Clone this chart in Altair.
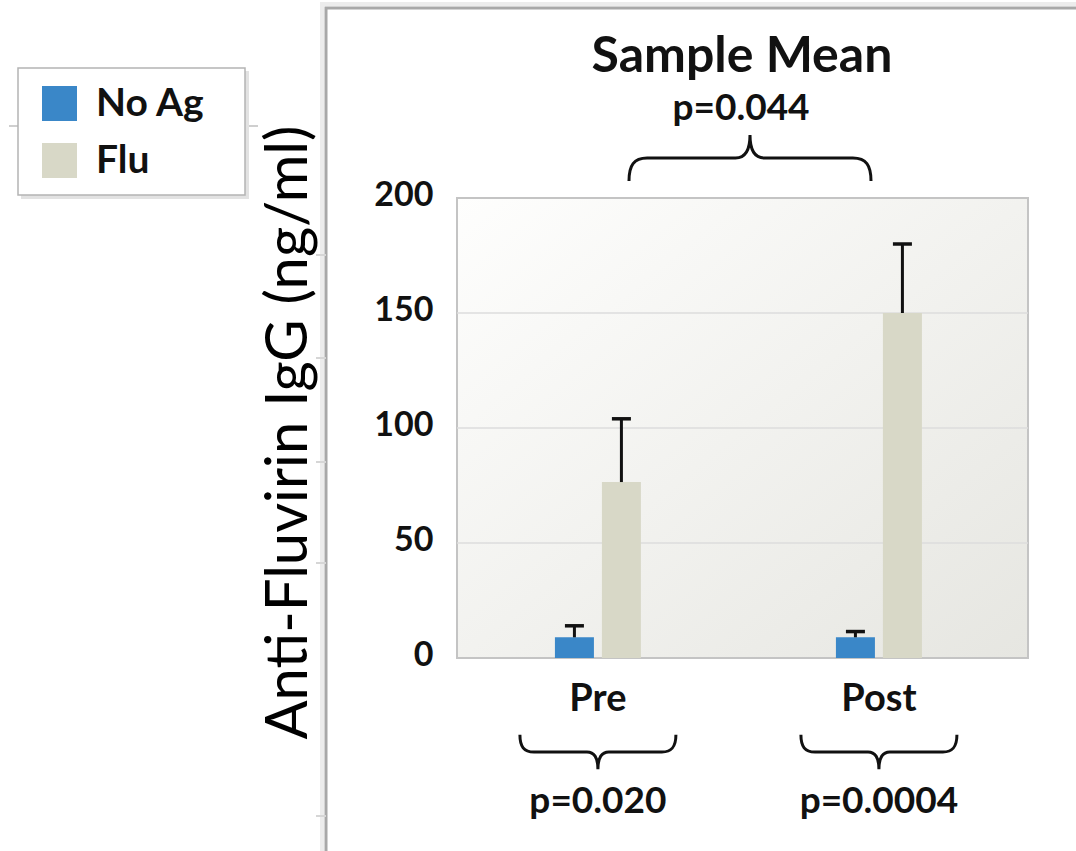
import altair as alt
import pandas as pd

# ---- data ----
periods = ["Pre", "Pre", "Post", "Post"]
groups = ["No Ag", "Flu", "No Ag", "Flu"]
means = [9, 76.5, 9, 150]
uppers = [14, 104, 11.5, 180]

period_order = ["Pre", "Post"]
legend_order = ["No Ag", "Flu"]
colors = ["#3a87c8", "#d8d8c7"]

y_ticks = [0, 50, 100, 150, 200]
grid_values = [50, 100, 150]

title_text = ["Sample Mean"]
top_p = ["p=0.044"]
bottom_periods = ["Pre", "Post"]
bottom_p = ["p=0.020", "p=0.0004"]
y_title = "Anti-Fluvirin IgG (ng/ml)"

# ---- layout constants (pixels) ----
W, H = 571, 460
PAD_L, PAD_T = 457, 198

df = pd.DataFrame({"Period": periods, "Group": groups, "Mean": means, "Upper": uppers})
grid_df = pd.DataFrame({"Mean": grid_values})
bottom_df = pd.DataFrame({"Period": bottom_periods, "label": bottom_p})
one = pd.DataFrame({"k": [0]})

FONT = "Lato"

xscale = alt.Scale(paddingInner=0.694, paddingOuter=0.363, align=0.48)
xoffscale = alt.Scale(paddingInner=0.17, paddingOuter=0)
yscale = alt.Scale(domain=[0, 200], nice=False)

xaxis = alt.Axis(title=None, labelFont=FONT, labelFontWeight="bold", labelFontSize=38,
                 labelColor="#111111", labelPadding=52, labelBaseline="alphabetic",
                 ticks=False, tickSize=0, domain=False, labelAngle=0, grid=False)
yaxis = alt.Axis(values=y_ticks, title=y_title, titleFont=FONT, titleFontSize=58,
                 titleFontWeight="normal", titleColor="#000000", titleX=-151, titleY=234,
                 titleAngle=270, titleAlign="center", titleBaseline="alphabetic",
                 labelFont=FONT, labelFontWeight="bold", labelFontSize=34, labelColor="#111111",
                 labelPadding=24, labelOffset=-3, ticks=False, tickSize=0, domain=False, grid=False)

X = alt.X("Period:N", sort=period_order, scale=xscale, axis=xaxis)
XO = alt.XOffset("Group:N", sort=legend_order, scale=xoffscale)

# outer frame of the slide panel
frame = alt.Chart(one).mark_rect(filled=False, stroke="#a8a8a8", strokeWidth=3).encode(
    x=alt.value(326 - PAD_L), x2=alt.value(W + 120),
    y=alt.value(8 - PAD_T), y2=alt.value(H + 260))
frame_shadow = alt.Chart(one).mark_rect(filled=False, stroke="#ececec", strokeWidth=4).encode(
    x=alt.value(322 - PAD_L), x2=alt.value(W + 120),
    y=alt.value(4 - PAD_T), y2=alt.value(H + 260))

# faint leftover lines
deco = []
deco.append(alt.Chart(one).mark_rule(color="#cfcfcf", strokeWidth=2).encode(
    x=alt.value(9 - PAD_L), x2=alt.value(258 - PAD_L), y=alt.value(126 - PAD_T)))
for yy in [255, 358, 462, 563, 816]:
    deco.append(alt.Chart(one).mark_rule(color="#d6d6d6", strokeWidth=2).encode(
        x=alt.value(316 - PAD_L), x2=alt.value(326 - PAD_L), y=alt.value(yy - PAD_T)))

# legend box
leg_shadow = alt.Chart(one).mark_rect(fill="#e2e2e2").encode(
    x=alt.value(21 - PAD_L), x2=alt.value(249 - PAD_L),
    y=alt.value(71 - PAD_T), y2=alt.value(199 - PAD_T))
leg_box = alt.Chart(one).mark_rect(fill="white", stroke="#b4b4b4", strokeWidth=1.5).encode(
    x=alt.value(18 - PAD_L), x2=alt.value(245 - PAD_L),
    y=alt.value(68 - PAD_T), y2=alt.value(195 - PAD_T))

# plot background gradient
bg = alt.Chart(one).mark_rect(
    fill=alt.LinearGradient(gradient="linear",
                            stops=[alt.GradientStop(color="#fefefd", offset=0),
                                   alt.GradientStop(color="#e6e6e1", offset=1)],
                            x1=0, y1=0, x2=1, y2=1),
    stroke="#c4c4c4", strokeWidth=2).encode(
    x=alt.value(0), x2=alt.value(W), y=alt.value(0), y2=alt.value(H))

grid = alt.Chart(grid_df).mark_rule(color="#dddddd", strokeWidth=1.5).encode(
    y=alt.Y("Mean:Q", scale=yscale, axis=yaxis))

bars = alt.Chart(df).mark_bar().encode(
    x=X, xOffset=XO,
    y=alt.Y("Mean:Q", scale=yscale, axis=yaxis),
    color=alt.Color("Group:N", scale=alt.Scale(domain=legend_order, range=colors),
                    legend=alt.Legend(title=None, orient="none", legendX=20 - PAD_L,
                                      legendY=64 - PAD_T, symbolType="square",
                                      symbolSize=1225, symbolStrokeWidth=0,
                                      labelFont=FONT, labelFontWeight="bold",
                                      labelFontSize=39, labelColor="#111111",
                                      labelOffset=17, rowPadding=17, padding=20)))

err = alt.Chart(df).mark_rule(color="#111111", strokeWidth=3).encode(
    x=X, xOffset=XO,
    y=alt.Y("Mean:Q", scale=yscale, axis=yaxis), y2="Upper:Q")
caps = alt.Chart(df).mark_tick(color="#111111", thickness=3.5, size=19, opacity=1).encode(
    x=X, xOffset=XO,
    y=alt.Y("Upper:Q", scale=yscale, axis=yaxis))

BRACE_UP = ("M -1 0.19 C -1 0.06 -0.96 0 -0.85 0 L -0.12 0 C -0.04 0 0 -0.06 0 -0.19 "
            "C 0 -0.06 0.04 0 0.12 0 L 0.85 0 C 0.96 0 1 0.06 1 0.19")
BRACE_DOWN = ("M -1 -0.22 C -1 -0.07 -0.95 0 -0.82 0 L -0.14 0 C -0.05 0 0 0.07 0 0.22 "
              "C 0 0.07 0.05 0 0.14 0 L 0.82 0 C 0.95 0 1 -0.07 1 -0.22")

top_brace = alt.Chart(one).mark_point(shape=BRACE_UP, size=242 ** 2, filled=False,
                                      strokeWidth=3, color="#111111", opacity=1).encode(
    x=alt.value(750 - PAD_L), y=alt.value(158 - PAD_T))

bottom_braces = alt.Chart(bottom_df).mark_point(shape=BRACE_DOWN, size=156 ** 2, filled=False,
                                                strokeWidth=3, color="#111111", opacity=1).encode(
    x=alt.X("Period:N", sort=period_order, scale=xscale, axis=xaxis),
    y=alt.value(752 - PAD_T))

bottom_text = alt.Chart(bottom_df).mark_text(font=FONT, fontWeight="bold", fontSize=37,
                                             color="#111111", align="center",
                                             baseline="alphabetic").encode(
    x=alt.X("Period:N", sort=period_order, scale=xscale, axis=xaxis),
    y=alt.value(813 - PAD_T), text="label:N")

title = alt.Chart(pd.DataFrame({"t": title_text})).mark_text(
    font=FONT, fontWeight="bold", fontSize=50, color="#111111", align="center",
    baseline="alphabetic").encode(x=alt.value(742 - PAD_L), y=alt.value(72 - PAD_T), text="t:N")
top_text = alt.Chart(pd.DataFrame({"t": top_p})).mark_text(
    font=FONT, fontWeight="bold", fontSize=37, color="#111111", align="center",
    baseline="alphabetic").encode(x=alt.value(741 - PAD_L), y=alt.value(120 - PAD_T), text="t:N")

chart = alt.layer(
    frame_shadow, frame, *deco, leg_shadow, leg_box, bg, grid, bars, err, caps,
    top_brace, bottom_braces, bottom_text, title, top_text
).properties(
    width=W, height=H,
    padding={"left": PAD_L, "top": PAD_T, "right": 1076 - PAD_L - W, "bottom": 851 - PAD_T - H},
    autosize=alt.AutoSizeParams(type="none"),
    background="white",
).configure_view(strokeWidth=0)

chart.save("out.html", embed_options={"renderer": "svg", "actions": False})
